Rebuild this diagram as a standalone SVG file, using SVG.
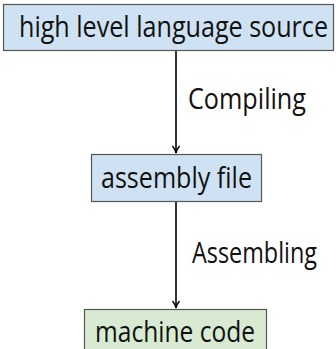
<svg xmlns="http://www.w3.org/2000/svg" width="336" height="349" viewBox="0 0 336 349">
<defs>
<style>
.box{stroke:#555;stroke-width:1.2}
.blue{fill:#cfe2f3}
.green{fill:#d9ead3}
text{font-family:"Open Sans","Liberation Sans",sans-serif;font-size:29px;fill:#111}
.edge{stroke:#000;stroke-width:1.6;fill:none}
</style>
<marker id="arr" markerWidth="10" markerHeight="10" refX="8" refY="5" orient="auto" markerUnits="userSpaceOnUse">
<path d="M1,1.5 Q4,4 8,5 Q4,6 1,8.5" fill="none" stroke="#000" stroke-width="1.4"/>
</marker>
</defs>
<g id="connectors">
<line class="edge" x1="176" y1="50" x2="176" y2="153" marker-end="url(#arr)"/>
<line class="edge" x1="176" y1="202" x2="176" y2="308" marker-end="url(#arr)"/>
<text x="188" y="109" textLength="118" lengthAdjust="spacingAndGlyphs">Compiling</text>
<text x="192" y="263" textLength="125" lengthAdjust="spacingAndGlyphs">Assembling</text>
</g>
<g id="source">
<rect class="box blue" x="3.5" y="4.5" width="330" height="46"/>
<text x="19" y="37" textLength="309" lengthAdjust="spacingAndGlyphs">high level language source</text>
</g>
<g id="assembly">
<rect class="box blue" x="91.5" y="154.5" width="170" height="47"/>
<text x="101" y="188" textLength="151" lengthAdjust="spacingAndGlyphs">assembly file</text>
</g>
<g id="machine">
<rect class="box green" x="84.5" y="309.5" width="182" height="46"/>
<text x="95" y="342" textLength="160" lengthAdjust="spacingAndGlyphs">machine code</text>
</g>
</svg>
